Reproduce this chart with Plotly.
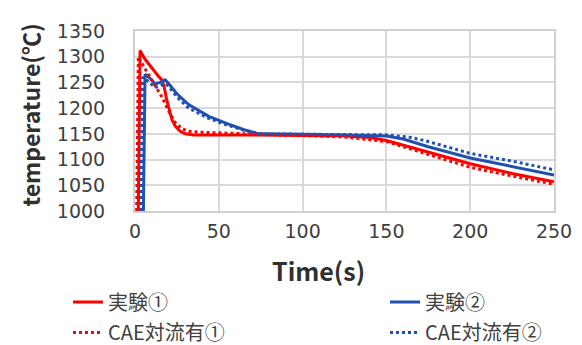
import plotly.graph_objects as go

# ---- data ----
exp1_x = [2, 2.5, 3, 6, 10, 14, 16, 17.5, 19, 20.5, 22, 24, 27, 30, 35, 50, 75, 100, 125, 140, 150, 175, 200, 225, 250]
exp1_y = [1000, 1200, 1312, 1295, 1278, 1262, 1255, 1240, 1215, 1195, 1178, 1165, 1155, 1150, 1148, 1148, 1148, 1147, 1146, 1143, 1137, 1115, 1092, 1073, 1057]

cae1_x = [1, 1.5, 2, 5, 8, 12, 16, 20, 24, 28, 32, 40, 50, 75, 100, 125, 150, 175, 200, 225, 250]
cae1_y = [1000, 1150, 1300, 1282, 1265, 1242, 1222, 1195, 1172, 1160, 1155, 1153, 1152, 1149, 1147, 1144, 1135, 1110, 1085, 1068, 1052]

exp2_x = [5, 5.5, 6, 9, 12, 15, 18, 20, 25, 32, 44, 55, 65, 74, 85, 100, 125, 150, 160, 175, 200, 225, 250]
exp2_y = [1000, 1150, 1266, 1258, 1247, 1250, 1255, 1248, 1228, 1207, 1184, 1170, 1158, 1150, 1149, 1149, 1148, 1146, 1140, 1125, 1103, 1087, 1070]

cae2_x = [3.5, 4, 4.5, 8, 12, 15, 18, 20, 25, 32, 44, 55, 65, 75, 100, 125, 150, 165, 175, 200, 225, 250]
cae2_y = [1000, 1150, 1260, 1252, 1240, 1243, 1248, 1242, 1222, 1200, 1180, 1167, 1157, 1150, 1149, 1149, 1148, 1143, 1135, 1112, 1097, 1080]

names = ["実験①", "実験②", "CAE対流有①", "CAE対流有②"]
x_ticks = [0, 50, 100, 150, 200, 250]
y_ticks = [1000, 1050, 1100, 1150, 1200, 1250, 1300, 1350]

RED = "#ff0000"
BLUE = "#2050b0"
FONT = "Noto Sans CJK JP"
TICKFONT = "DejaVu Sans"
W, H = 582, 345

fig = go.Figure()
fig.add_trace(go.Scatter(x=exp1_x, y=exp1_y, mode="lines", name=names[0],
                         line=dict(color=RED, width=3), legend="legend"))
fig.add_trace(go.Scatter(x=exp2_x, y=exp2_y, mode="lines", name=names[1],
                         line=dict(color=BLUE, width=3), legend="legend2"))
fig.add_trace(go.Scatter(x=cae1_x, y=cae1_y, mode="lines", name=names[2],
                         line=dict(color=RED, width=3, dash="dot"), legend="legend3"))
fig.add_trace(go.Scatter(x=cae2_x, y=cae2_y, mode="lines", name=names[3],
                         line=dict(color=BLUE, width=3, dash="dot"), legend="legend4"))


def leg(px, py, anchor="middle"):
    return dict(xref="container", yref="container",
                x=px / W, y=max(0.0, 1 - py / H), xanchor="left", yanchor=anchor,
                bgcolor="rgba(0,0,0,0)",
                font=dict(size=20, color="#404040", family=FONT))


fig.update_layout(
    width=W, height=H,
    margin=dict(l=127, r=36, t=23, b=142, autoexpand=False),
    paper_bgcolor="white", plot_bgcolor="white",
    font=dict(family=FONT, color="#404040", size=20),
    showlegend=True,
    legend=leg(60, 294),
    legend2=leg(377, 294),
    legend3=leg(60, 344, "bottom"),
    legend4=leg(377, 344, "bottom"),
    xaxis=dict(range=[0, 250], tickvals=x_ticks, showgrid=True,
               gridcolor="#d9d9d9", gridwidth=2, zeroline=False,
               showline=True, linecolor="#d0d0d0", linewidth=2, mirror=True,
               tickfont=dict(size=19, family=TICKFONT, color="#404040"),
               ticks="outside", ticklen=2, tickcolor="rgba(0,0,0,0)"),
    yaxis=dict(range=[1000, 1350], tickvals=y_ticks, showgrid=True,
               gridcolor="#d9d9d9", gridwidth=2, zeroline=False,
               showline=True, linecolor="#d0d0d0", linewidth=2, mirror=True,
               tickfont=dict(size=19, family=TICKFONT, color="#404040"),
               ticks="outside", ticklen=24, tickcolor="rgba(0,0,0,0)"),
    annotations=[
        dict(text="Time(s)", xref="paper", yref="paper", x=(310 - 127) / 419, y=(203 - 262) / 180,
             showarrow=False, font=dict(size=25, color="#303030", family=FONT, weight="bold"),
             xanchor="center", yanchor="middle"),
        dict(text="temperature(℃)", xref="paper", yref="paper", x=(22 - 127) / 419, y=0.53,
             textangle=-90, showarrow=False,
             font=dict(size=23, color="#303030", family=FONT, weight="bold"),
             xanchor="center", yanchor="middle"),
    ],
)

fig.write_html("out.html")
